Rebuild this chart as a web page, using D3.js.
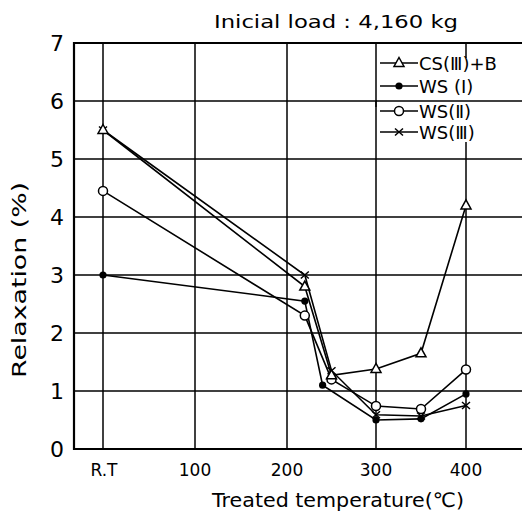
<!DOCTYPE html>
<html><head><meta charset="utf-8">
<script src="https://cdn.jsdelivr.net/npm/d3@7"></script>
<style>body{margin:0;background:#fff}svg{display:block}text{font-family:"DejaVu Sans",sans-serif;fill:#000}</style>
</head><body>
<svg id="c" width="525" height="513"></svg>
<script>
const xTicks = [0, 100, 200, 300, 400];
const xTickLabels = ["R.T", "100", "200", "300", "400"];
const yTicks = [0, 1, 2, 3, 4, 5, 6, 7];
const seriesNames = ["CS(Ⅲ)+B", "WS (Ⅰ)", "WS(Ⅱ)", "WS(Ⅲ)"];
const seriesMarkers = ["triangle", "dot", "circle", "cross"];
const csIIIB = [[0,5.5],[220,2.8],[250,1.27],[300,1.38],[350,1.65],[400,4.2]];
const wsI    = [[0,3.0],[220,2.55],[240,1.1],[300,0.5],[350,0.52],[400,0.95]];
const wsII   = [[0,4.45],[220,2.3],[250,1.2],[300,0.74],[350,0.69],[400,1.37]];
const wsIII  = [[0,5.5],[220,3.0],[250,1.35],[300,0.59],[350,0.57],[400,0.75]];
const seriesData = [csIIIB, wsI, wsII, wsIII];
const title = "Inicial load : 4,160 kg";
const xTitle = "Treated temperature(℃)";
const yTitle = "Relaxation (%)";

const svg = d3.select("#c");
const pL = 74, pR = 522, pT = 43, pB = 449;
const x = d3.scaleLinear().domain(xTicks).range([103, 195, 287, 376, 466]);
const y = d3.scaleLinear().domain([0, 7]).range([pB, pT]);

// grid
svg.append("g").selectAll("line").data(yTicks.filter(d => d > 0)).join("line")
  .attr("x1", pL).attr("x2", pR).attr("y1", d => y(d)).attr("y2", d => y(d))
  .attr("stroke", "#000").attr("stroke-width", d => d === 7 ? 2 : 1.5);
svg.append("g").selectAll("line").data(xTicks).join("line")
  .attr("x1", d => x(d)).attr("x2", d => x(d)).attr("y1", pB).attr("y2", pT)
  .attr("stroke", "#000").attr("stroke-width", 1.5);

// axes
svg.append("line").attr("x1", pL).attr("x2", pL).attr("y1", pT - 1).attr("y2", pB + 1)
  .attr("stroke", "#000").attr("stroke-width", 2.2);
svg.append("line").attr("x1", pL).attr("x2", pR).attr("y1", pB).attr("y2", pB)
  .attr("stroke", "#000").attr("stroke-width", 2.2);

// tick labels
svg.append("g").selectAll("text").data(yTicks).join("text")
  .attr("x", 64).attr("y", d => y(d) + 8).attr("text-anchor", "end")
  .attr("font-size", 22).text(d => d);
svg.append("g").selectAll("text").data(xTicks).join("text")
  .attr("x", (d, i) => x(d) + (i === 0 ? 1 : 0)).attr("y", 476).attr("text-anchor", "middle")
  .attr("font-size", 17).text((d, i) => xTickLabels[i]);

// titles
svg.append("text").attr("x", 336).attr("y", 28).attr("text-anchor", "middle")
  .attr("font-size", 18).attr("textLength", 244).attr("lengthAdjust", "spacingAndGlyphs").text(title);
svg.append("text").attr("x", 338).attr("y", 507).attr("text-anchor", "middle")
  .attr("font-size", 20).attr("textLength", 252).attr("lengthAdjust", "spacingAndGlyphs").text(xTitle);
svg.append("text").attr("transform", "translate(26,280) rotate(-90)").attr("text-anchor", "middle")
  .attr("font-size", 20).attr("textLength", 196).attr("lengthAdjust", "spacingAndGlyphs").text(yTitle);

// markers
function drawMarker(g, type, cx, cy) {
  if (type === "triangle") {
    g.append("path").attr("d", `M${cx},${cy-5.5}L${cx+5},${cy+3.5}L${cx-5},${cy+3.5}Z`)
      .attr("fill", "#fff").attr("stroke", "#000").attr("stroke-width", 1.5);
  } else if (type === "dot") {
    g.append("circle").attr("cx", cx).attr("cy", cy).attr("r", 3.6).attr("fill", "#000");
  } else if (type === "circle") {
    g.append("circle").attr("cx", cx).attr("cy", cy).attr("r", 4.5)
      .attr("fill", "#fff").attr("stroke", "#000").attr("stroke-width", 1.5);
  } else {
    g.append("path").attr("d", `M${cx-4},${cy-3.5}L${cx+4},${cy+3.5}M${cx+4},${cy-3.5}L${cx-4},${cy+3.5}`)
      .attr("stroke", "#000").attr("stroke-width", 1.5);
  }
}

const line = d3.line().x(d => x(d[0])).y(d => y(d[1]));
const order = [3, 1, 2, 0];
order.forEach(i => {
  svg.append("path").attr("d", line(seriesData[i])).attr("fill", "none")
    .attr("stroke", "#000").attr("stroke-width", 1.6);
});
order.forEach(i => {
  const g = svg.append("g");
  seriesData[i].forEach(d => drawMarker(g, seriesMarkers[i], x(d[0]), y(d[1])));
});

// legend
const lg = svg.append("g");
lg.append("rect").attr("x", 377).attr("y", 58).attr("width", 148).attr("height", 84).attr("fill", "#fff");
lg.append("line").attr("x1", 376).attr("x2", pR).attr("y1", y(6)).attr("y2", y(6))
  .attr("stroke", "#000").attr("stroke-width", 1.5);
lg.append("line").attr("x1", x(300)).attr("x2", x(300)).attr("y1", y(6)).attr("y2", y(6) + 6)
  .attr("stroke", "#000").attr("stroke-width", 1.5);
const rowY = [63, 86, 111, 132];
seriesNames.forEach((n, i) => {
  const ry = rowY[i];
  lg.append("line").attr("x1", 380).attr("x2", 418).attr("y1", ry).attr("y2", ry)
    .attr("stroke", "#000").attr("stroke-width", 1.6);
  drawMarker(lg, seriesMarkers[i], 399, ry);
  lg.append("text").attr("x", 419).attr("y", ry + 6.5).attr("font-size", 18).text(n);
});
</script>
</body></html>
